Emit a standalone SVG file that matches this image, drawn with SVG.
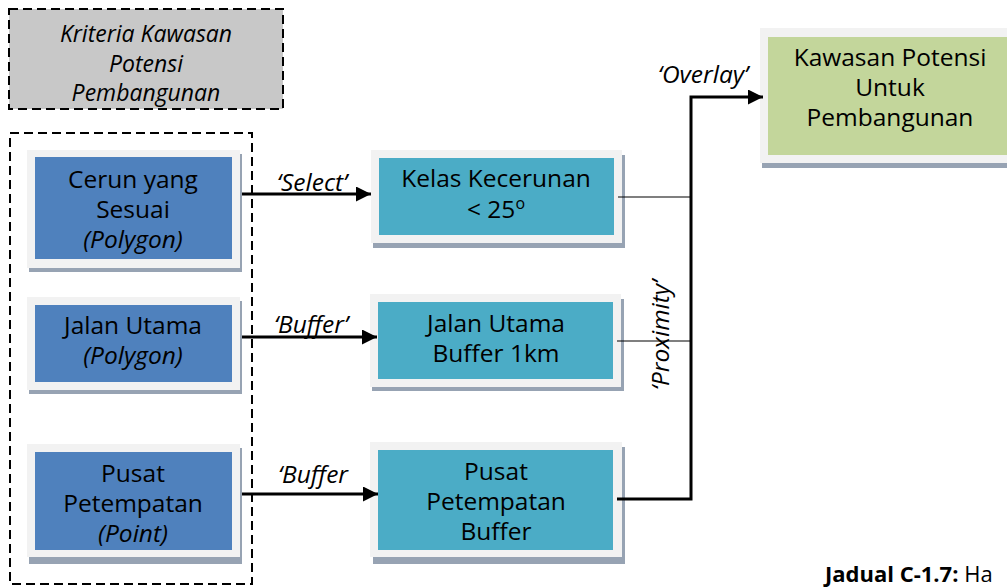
<svg xmlns="http://www.w3.org/2000/svg" width="1007" height="588" viewBox="0 0 1007 588">
<defs>
<style>
.t{font-family:"Open Sans","Noto Sans","DejaVu Sans",sans-serif;font-size:24.5px;fill:#000;text-anchor:middle}
.h{font-size:23px}
.i{font-style:italic}
.frame{fill:#f2f2f2}
.shadow{fill:#97a3b3}
.blue{fill:#4f81bd}
.teal{fill:#4bacc6}
.green{fill:#c3d69b}
.dash{stroke:#000;stroke-width:2;stroke-dasharray:9,5}
.thick{fill:none;stroke:#000;stroke-width:3}
.thin{fill:none;stroke:#000;stroke-width:1.2}
</style>
<marker id="arr" viewBox="0 0 10 10" refX="10" refY="5" markerUnits="userSpaceOnUse" markerWidth="16" markerHeight="15" orient="auto">
<path d="M0,0 L10,5 L0,10 Z" fill="#000"/>
</marker>
</defs>
<rect width="1007" height="588" fill="#fff"/>

<g id="header">
<rect x="9" y="9" width="274" height="100" class="dash" style="fill:#c8c8c8"/>
<text class="t i h" x="146" y="42">Kriteria Kawasan</text>
<text class="t i h" x="146" y="72">Potensi</text>
<text class="t i h" x="146" y="101">Pembangunan</text>
</g>

<g id="group-box">
<rect x="10" y="133" width="242" height="451" class="dash" style="fill:none"/>
</g>

<g id="cerun">
<rect x="29" y="154" width="213" height="118" class="shadow"/>
<rect x="27" y="150" width="213" height="118" class="frame"/>
<rect x="35" y="157" width="197" height="102" class="blue"/>
<text class="t" x="133" y="188">Cerun yang</text>
<text class="t" x="133" y="218">Sesuai</text>
<text class="t i" x="133" y="248">(Polygon)</text>
</g>

<g id="jalan">
<rect x="29" y="301" width="213" height="93" class="shadow"/>
<rect x="27" y="297" width="213" height="93" class="frame"/>
<rect x="35" y="305" width="197" height="77" class="blue"/>
<text class="t" x="133" y="334">Jalan Utama</text>
<text class="t i" x="133" y="364">(Polygon)</text>
</g>

<g id="pusat">
<rect x="29" y="448" width="213" height="116" class="shadow"/>
<rect x="27" y="444" width="213" height="113" class="frame"/>
<rect x="35" y="452" width="197" height="98" class="blue"/>
<text class="t" x="133" y="482">Pusat</text>
<text class="t" x="133" y="512">Petempatan</text>
<text class="t i" x="133" y="542">(Point)</text>
</g>

<g id="kelas">
<rect x="373" y="155" width="252" height="93" class="shadow"/>
<rect x="371" y="150" width="251" height="93" class="frame"/>
<rect x="379" y="158" width="235" height="77" class="teal"/>
<text class="t" x="496" y="187">Kelas Kecerunan</text>
<text class="t" x="496" y="218">&lt; 25<tspan font-size="16" dy="-9">o</tspan></text>
</g>

<g id="jalan-buffer">
<rect x="372" y="299" width="252" height="92" class="shadow"/>
<rect x="370" y="294" width="251" height="93" class="frame"/>
<rect x="378" y="302" width="235" height="77" class="teal"/>
<text class="t" x="496" y="332">Jalan Utama</text>
<text class="t" x="496" y="362">Buffer 1km</text>
</g>

<g id="pusat-buffer">
<rect x="373" y="447" width="252" height="117" class="shadow"/>
<rect x="370" y="442" width="252" height="115" class="frame"/>
<rect x="378" y="450" width="235" height="100" class="teal"/>
<text class="t" x="496" y="480">Pusat</text>
<text class="t" x="496" y="510">Petempatan</text>
<text class="t" x="496" y="540">Buffer</text>
</g>

<g id="kawasan">
<rect x="762" y="33" width="260" height="135" class="shadow"/>
<rect x="760" y="28" width="260" height="135" class="frame"/>
<rect x="768" y="37" width="250" height="118" class="green"/>
<text class="t" x="890" y="66">Kawasan Potensi</text>
<text class="t" x="890" y="96">Untuk</text>
<text class="t" x="890" y="126">Pembangunan</text>
</g>

<g id="connectors">
<line x1="242" y1="194" x2="371" y2="194" class="thick" marker-end="url(#arr)"/>
<line x1="242" y1="337" x2="377" y2="337" class="thick" marker-end="url(#arr)"/>
<line x1="242" y1="494" x2="378" y2="494" class="thick" marker-end="url(#arr)"/>
<line x1="618" y1="197" x2="691" y2="197" class="thin"/>
<line x1="617" y1="341" x2="691" y2="341" class="thin"/>
<polyline points="617,499 691,499 691,97 763,97" class="thick" marker-end="url(#arr)"/>
<text class="t i" x="312" y="191">‘Select’</text>
<text class="t i" x="311" y="333">‘Buffer’</text>
<text class="t i" x="313" y="483">‘Buffer</text>
<text class="t i" x="703" y="83">‘Overlay’</text>
<text class="t i" transform="translate(669,335) rotate(-90)">‘Proximity’</text>
</g>

<g id="caption">
<text x="825" y="582" font-family="'Open Sans','Noto Sans',sans-serif" font-size="22"><tspan font-weight="bold">Jadual C-1.7:</tspan> Ha</text>
</g>
</svg>
